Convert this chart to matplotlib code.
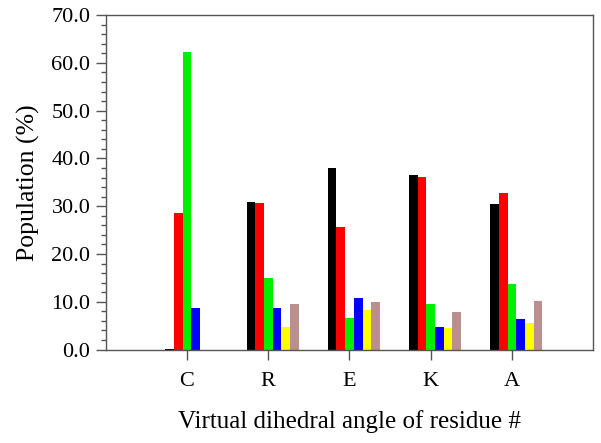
import matplotlib
matplotlib.use('Agg')
import matplotlib.pyplot as plt
from matplotlib.ticker import MultipleLocator
import numpy as np

residues = ['C', 'R', 'E', 'K', 'A']
# six populations per residue, in drawing order
black = [0.2, 30.8, 38.0, 36.6, 30.5]
red = [28.5, 30.6, 25.7, 36.1, 32.7]
green = [62.3, 14.9, 6.7, 9.5, 13.7]
blue = [8.7, 8.7, 10.7, 4.7, 6.3]
yellow = [0.0, 4.8, 8.2, 4.6, 5.6]
brown = [0.0, 9.5, 9.9, 7.9, 10.2]

series = [black, red, green, blue, yellow, brown]
colors = ['#000000', '#ff0000', '#00ee00', '#0000ff', '#ffff00', '#bc8f8f']

plt.rcParams['font.family'] = 'Liberation Serif'

fig = plt.figure(figsize=(6.01, 4.43), dpi=100)
ax = fig.add_axes([0.176, 0.211, 0.811, 0.755])

x = np.arange(1, len(residues) + 1)
w = 0.107
for i, (vals, c) in enumerate(zip(series, colors)):
    ax.bar(x + (i - 2) * w, vals, width=w, color=c, linewidth=0)

ax.set_xlim(0, 6)
ax.set_ylim(0, 70)
ax.set_xticks(x)
ax.set_xticklabels(residues)
ax.yaxis.set_major_locator(MultipleLocator(10))
ax.yaxis.set_minor_locator(MultipleLocator(2))
ax.yaxis.set_major_formatter(matplotlib.ticker.FormatStrFormatter('%.1f'))

for s in ax.spines.values():
    s.set_color('#555555')
    s.set_linewidth(1.0)
ax.tick_params(axis='both', which='major', direction='out', length=7, width=1,
               color='#555555', labelsize=16, pad=4)
ax.tick_params(axis='y', which='minor', direction='out', length=3.5, width=1,
               color='#555555')
ax.tick_params(axis='x', pad=9)

ax.set_xlabel('Virtual dihedral angle of residue #', fontsize=18, labelpad=14)
ax.set_ylabel('Population (%)', fontsize=18.5, labelpad=8)

fig.savefig('out.png', dpi=100)
